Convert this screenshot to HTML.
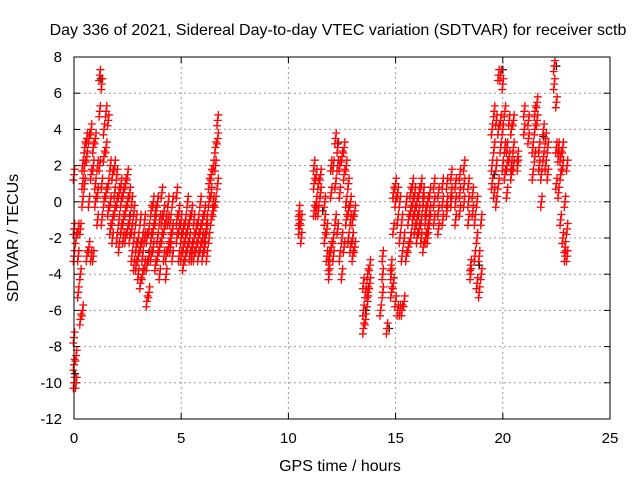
<!DOCTYPE html>
<html><head><meta charset="utf-8"><style>
body{margin:0;background:#fff}
svg{display:block;font-family:"Liberation Sans",sans-serif}
</style></head><body>
<svg id="chart" width="640" height="480">
<rect width="640" height="480" fill="#fff"/>
<text x="338" y="35" font-size="16" text-anchor="middle" fill="#000">Day 336 of 2021, Sidereal Day-to-day VTEC variation (SDTVAR) for receiver sctb</text>
<text x="340" y="471" font-size="16" text-anchor="middle">GPS time / hours</text>
<text transform="translate(18,238) rotate(-90)" font-size="16" text-anchor="middle">SDTVAR / TECUs</text>
<g id="grid"></g><g id="ticks"></g><g id="marks"></g>
<rect x="74" y="57" width="536" height="362" fill="none" stroke="#000" stroke-width="1"/>
</svg>
<script>
const xTicks=[0,5,10,15,20,25];
const yTicks=[-12,-10,-8,-6,-4,-2,0,2,4,6,8];
const times=[0,0.1,0.2,0.3,0.4,0.5,0.6,0.7,0.8,0.9,1.0,1.1,1.2,1.3,1.4,1.5,1.6,1.7,1.8,1.9,2.0,2.1,2.2,2.3,2.4,2.5,2.6,2.7,2.8,2.9,3.0,3.1,3.2,3.3,3.4,3.5,3.6,3.7,3.8,3.9,4.0,4.1,4.2,4.3,4.4,4.5,4.6,4.8,4.9,5.0,5.1,5.2,5.3,5.4,5.5,5.6,5.7,5.8,5.9,6.0,6.1,6.2,6.3,6.4,6.5,6.6,6.7,
10.5,10.6,11.2,11.3,11.4,11.5,11.7,11.8,11.9,12.0,12.1,12.2,12.3,12.4,12.5,12.6,12.7,12.8,12.9,13.0,13.1,13.5,13.6,13.7,13.8,14.3,14.4,14.6,14.8,14.9,15.0,15.1,15.2,15.3,15.4,15.5,15.6,15.7,15.8,15.9,16.0,16.1,16.2,16.3,16.4,16.5,16.6,16.8,17.0,17.2,17.4,17.6,17.8,18.0,18.2,18.4,18.5,18.6,18.7,18.8,18.9,19.0,
19.5,19.6,19.7,19.8,19.9,20.0,20.1,20.2,20.3,20.4,20.5,20.7,21.0,21.2,21.4,21.5,21.6,21.7,21.8,21.9,22.0,22.1,22.4,22.5,22.6,22.7,22.8,22.9,23.0];
const values=[[1.5,-1.5,-3,-7.5,-9,-10],[-2,-8.5,-10],[-1.5,-3,-5],[-6.5,-4,-1.5],[0,1,2,-6],[2,3,1],[3.5,2.5,-3],[3.5,-2.5,0],[4,1.5,-3],[3,2,-3],[3.5,1,0],[2,0.5,-1],[7,5,2],[6.5,1,-1],[4,2.5,0],[5,3,0.5],[4.5,1,-0.5],[2,0,-1.5],[1.5,-1,-2],[2,0.5,-0.5],[1.5,0,-2],[0.5,-1,-2.5],[1,0,-1.5],[0.5,-1,-2],[1,-0.5,-2],[1.5,0,-1.5],[0.5,-1,-2],[0,-1.5,-3],[-0.5,-2,-3.5],[-1,-2.5,-3.5],[-2,-3,-4],[-1,-2.5,-4.5],[-2,-3,-4],[-1,-2,-3.5],[-2,-3.5,-5.5],[-1.5,-3,-5],[-0.5,-2,-3],[0,-1.5,-2.5],[-0.5,-1,-3.5],[0,-2,-3],[-1,-2.5,-4],[0.5,-1,-2],[-0.5,-1.5,-3],[-1,-3,-4],[0,-1,-2.5],[-1,-2,-2.5],[0,-1.5,-3],[0.5,-1,-2],[-0.5,-1.5,-3],[-1,-2,-3],[-1.5,-2.5,-3.5],[-1,-2,-3],[0,-1.5,-2.5],[-1,-2,-3],[-0.5,-2.5,-3],[-1,-2,-3],[-1.5,-2.5],[-1,-2,-3],[0,-1.5,-2.5],[-1,-2,-3],[-0.5,-2,-2.5],[-1,-1.5,-3],[0,1,-2],[1.5,-1,0.5],[2,0,-0.5],[3,2,0],[4.5,3.5,1],
[-0.5,-1,-1.5],[-1,-2],[2,1,-0.5],[1.5,0,-0.5],[1,-0.5],[1.5,0.5],[0,-1,-2],[-1.5,-3],[-3,-4,-3.5],[0.5,2,-2.5],[2,-2,-3],[3.5,1,-1],[3,2,-1.5],[2,0.5,-3],[2.5,-2,-4],[3,1.5,-2.5],[2,0,-1],[1,-0.5,-2],[0,-1,-2.5],[-1,-2,-3],[-0.5,-2.5],[-4.5,-6,-7],[-5,-6.5],[-4,-5,-5.5],[-3.5,-4.5],[-6],[-4,-5,-3],[-7],[-3.5,-5,-4],[0.5,-1.5,-4.5],[1,0,-5.5],[0.5,-1,-6],[0,-2,-6],[-1,-3,-6],[-2,-5.5],[0,-3],[-1,-2.5],[0.5,-0.5,-2],[1,0,-1],[0.5,-0.5,-1.5],[0,-1,-2],[0.5,-0.5,-1.5],[1,-1,-2],[0.5,0,-2.5],[-0.5,-1,-2],[0,-1.5,-2],[0.5,-0.5,-1],[1,0,-1],[0.5,-0.5,-1.5],[1,0,-1],[1,0,-0.5],[1.5,0.5,0],[1,0,-1],[1.5,0.5,-0.5],[2,1,0],[1,0,-1],[-3.5,-4],[0.5,-0.5],[-1,-3],[0,-2,-4.5],[-3,-5],[-1,-4],
[4,2,1],[5,3,0.5],[4.5,2,0],[7,4,1],[7,4.5,3],[6.5,4,2],[5,3,1.5],[3,2,0.5],[4.5,2.5],[4,2,1.5],[4.5,3,2],[2.5,2],[5,4],[4.5,3.5],[3,1.5],[5,4,2.5],[5.5,4.5],[3,2],[1.5,0],[4,2.5],[3.5,2],[3,1.5],[7.5,6.5],[5.5,3,1],[3,2.5,0.5],[2.5,1.5,-1],[3,2,-2],[-2.5,-3,0],[2,-1.5,-3]];
const refTimes=[0.05,1.25,2.6,3.5,11.6,12.3,13.6,14.7,18.9,19.6,20.0,21.9,22.5];
const refValues=[-9.5,6.8,-0.8,-2.8,-0.5,3.2,-6,-7,-3.5,1.5,7.3,3.6,7.5];
const X=t=>74+t*(536/25), Y=v=>57+(8-v)*(362/20);
const NS="http://www.w3.org/2000/svg";
const grid=document.getElementById('grid'),ticks=document.getElementById('ticks'),marks=document.getElementById('marks');
function mk(tag,attrs,parent){const e=document.createElementNS(NS,tag);for(const k in attrs)e.setAttribute(k,attrs[k]);parent.appendChild(e);return e;}
xTicks.forEach(t=>{
 if(t>0&&t<25){const g=mk('line',{x1:X(t),x2:X(t),y1:57,y2:419,stroke:'#999','stroke-dasharray':'2,3'},grid);
 
 }
 const l=mk('text',{x:X(t),y:443,'font-size':15,'text-anchor':'middle'},ticks);l.textContent=t;
 
 
 mk('line',{x1:X(t),x2:X(t),y1:419,y2:413,stroke:'#000'},ticks);
 mk('line',{x1:X(t),x2:X(t),y1:57,y2:63,stroke:'#000'},ticks);
});
yTicks.forEach(v=>{
 if(v>-12&&v<8){const g=mk('line',{x1:74,x2:610,y1:Y(v),y2:Y(v),stroke:'#999','stroke-dasharray':'2,3'},grid);
 
 }
 const l=mk('text',{x:62,y:Y(v)+5,'font-size':15,'text-anchor':'end'},ticks);l.textContent=v;
 
 
 mk('line',{x1:74,x2:80,y1:Y(v),y2:Y(v),stroke:'#000'},ticks);
 mk('line',{x1:610,x2:604,y1:Y(v),y2:Y(v),stroke:'#000'},ticks);
});
function plus(t,v,c,name){const x=X(t),y=Y(v);
 const p=mk('path',{d:`M${x-4} ${y}H${x+4}M${x} ${y-4}V${y+4}`,stroke:c,'stroke-width':1.3,fill:'none'},marks);
 
 }
refTimes.forEach((t,i)=>plus(t,refValues[i],'#000','reference-point'));
times.forEach((t,i)=>values[i].forEach((v,j)=>{
 plus(t,v,'#f00','sdtvar-point');
 plus(t+0.03,v+0.3,'#f00','sdtvar-point');
 plus(t-0.03,v-0.3,'#f00','sdtvar-point');
}));
</script>
</body></html>
